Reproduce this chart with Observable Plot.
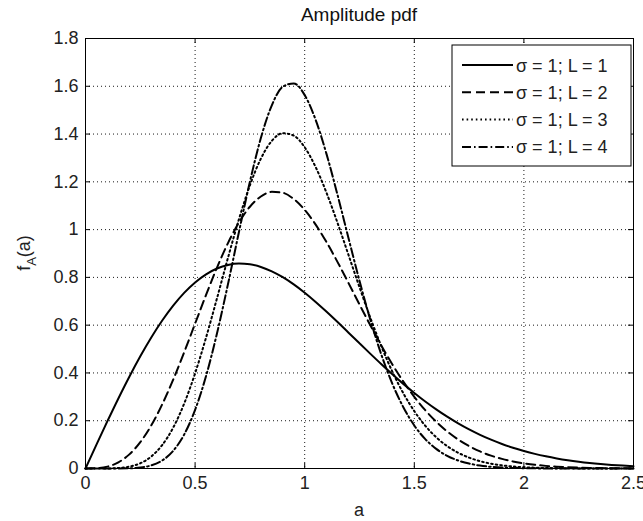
<!DOCTYPE html>
<html><head><meta charset="utf-8">
<script src="https://cdn.jsdelivr.net/npm/d3@7"></script>
<script src="https://cdn.jsdelivr.net/npm/@observablehq/plot@0.6"></script>
<style>
html,body{margin:0;padding:0;background:#fff;}
#chart svg{display:block;}
</style></head><body><div id="chart"></div>
<script>
// ---- data ----
const aValues = [0,0.05,0.1,0.15,0.2,0.25,0.3,0.35,0.4,0.45,0.5,0.55,0.6,0.65,0.7,0.75,0.8,0.85,0.9,0.95,1,1.05,1.1,1.15,1.2,1.25,1.3,1.35,1.4,1.45,1.5,1.55,1.6,1.65,1.7,1.75,1.8,1.85,1.9,1.95,2,2.05,2.1,2.15,2.2,2.25,2.3,2.35,2.4,2.45,2.5];
const pdfL1 = [0,0.0998,0.1980,0.2933,0.3843,0.4697,0.5484,0.6193,0.6817,0.7350,0.7788,0.8129,0.8372,0.8520,0.8577,0.8547,0.8437,0.8254,0.8007,0.7705,0.7358,0.6973,0.6560,0.6129,0.5686,0.5240,0.4798,0.4364,0.3944,0.3542,0.3162,0.2805,0.2474,0.2168,0.1890,0.1637,0.1410,0.1207,0.1028,0.0870,0.0733,0.0613,0.0511,0.0423,0.0348,0.0285,0.0232,0.0188,0.0151,0.0121,0.0097];
const pdfL2 = [0,0.0010,0.0078,0.0258,0.0591,0.1103,0.1804,0.2685,0.3718,0.4862,0.6065,0.7268,0.8411,0.9437,1.0298,1.0957,1.1388,1.1582,1.1542,1.1281,1.0827,1.0210,0.9468,0.8640,0.7761,0.6866,0.5985,0.5141,0.4355,0.3639,0.3000,0.2440,0.1960,0.1552,0.1214,0.0939,0.0714,0.0537,0.0402,0.0295,0.0214,0.0154,0.0110,0.0077,0.0053,0.0037,0.0025,0.0017,0.0011,0.0007,0.0005];
const pdfL3 = [0,0,0.0003,0.0019,0.0077,0.0219,0.0501,0.0982,0.1711,0.2714,0.3986,0.5483,0.7130,0.8820,1.0434,1.1852,1.2971,1.3714,1.4036,1.3935,1.3443,1.2616,1.1532,1.0275,0.8936,0.7589,0.6296,0.5109,0.4051,0.3150,0.2401,0.1790,0.1308,0.0938,0.0659,0.0454,0.0306,0.0202,0.0132,0.0084,0.0053,0.0033,0.0020,0.0012,0.0007,0.0004,0.0002,0.0001,0.0001,0,0];
const pdfL4 = [0,0,0,0.0001,0.0009,0.0041,0.0130,0.0336,0.0737,0.1419,0.2453,0.3874,0.5660,0.7719,0.9899,1.2005,1.3835,1.5204,1.5983,1.6119,1.5630,1.4595,1.3149,1.1445,0.9638,0.7857,0.6206,0.4756,0.3544,0.2565,0.1799,0.1231,0.0820,0.0531,0.0334,0.0206,0.0122,0.0071,0.0041,0.0023,0.0012,0.0006,0.0003,0.0002,0.0001,0,0,0,0,0,0];
const seriesLabels = ["σ = 1; L = 1","σ = 1; L = 2","σ = 1; L = 3","σ = 1; L = 4"];
const xTicks = [0,0.5,1,1.5,2,2.5];
const yTicks = [0,0.2,0.4,0.6,0.8,1,1.2,1.4,1.6,1.8];
const titleText = "Amplitude pdf";
const xLabelText = "a";
const yLabelMain = "f", yLabelSub = "A", yLabelTail = "(a)";

// ---- styling / layout ----
const W = 643, H = 521;
const mL = 85, mR = 10, mT = 38, mB = 53;
const frameW = W - mL - mR, frameH = H - mT - mB;
const FONT = "'Liberation Sans', Arial, Helvetica, sans-serif";
const dashes = [null, "9,5", "1.6,3", "9,3,1.6,3"];
const tickLen = 5;

const allSeries = [pdfL1, pdfL2, pdfL3, pdfL4];
const table = [];
allSeries.forEach((vals, s) => vals.forEach((v, i) => table.push({a: aValues[i], v, s})));

const lineMarks = allSeries.map((_, s) =>
  Plot.line(table.filter(d => d.s === s), {
    x: "a", y: "v", stroke: "black", strokeWidth: 2,
    strokeDasharray: dashes[s] || undefined, curve: "monotone-x"
  })
);

const plot = Plot.plot({
  width: W, height: H,
  marginLeft: mL, marginRight: mR, marginTop: mT, marginBottom: mB,
  style: {fontFamily: FONT, fontSize: "18px", color: "#222", background: "white"},
  x: {domain: [0, 2.5]},
  y: {domain: [0, 1.8]},
  marks: [
    Plot.gridX(xTicks, {stroke: "black", strokeOpacity: 0.9, strokeDasharray: "1,3"}),
    Plot.gridY(yTicks, {stroke: "black", strokeOpacity: 0.9, strokeDasharray: "1,3"}),
    Plot.ruleX(xTicks, {x: d => d, insetTop: frameH - tickLen, stroke: "black"}),
    Plot.ruleX(xTicks, {x: d => d, insetBottom: frameH - tickLen, stroke: "black"}),
    Plot.ruleY(yTicks, {y: d => d, insetRight: frameW - tickLen, stroke: "black"}),
    Plot.ruleY(yTicks, {y: d => d, insetLeft: frameW - tickLen, stroke: "black"}),
    ...lineMarks,
    Plot.frame({stroke: "black", strokeWidth: 1}),
    Plot.axisX(xTicks, {tickSize: 0, tickPadding: 8, label: null, fontSize: 18, tickFormat: d => String(d)}),
    Plot.axisY(yTicks, {tickSize: 0, tickPadding: 7, label: null, fontSize: 18, tickFormat: d => String(d)})
  ]
});
document.getElementById("chart").appendChild(plot);

const svg = d3.select(plot);
const xs = plot.scale("x"), ys = plot.scale("y");
const cx = (xs.range[0] + xs.range[1]) / 2;
const cy = (ys.range[0] + ys.range[1]) / 2;

// title
svg.append("text").attr("x", cx).attr("y", 21).attr("text-anchor", "middle")
  .attr("font-family", FONT).attr("font-size", 19).attr("fill", "#111").text(titleText);
// x label
svg.append("text").attr("x", cx).attr("y", 516).attr("text-anchor", "middle")
  .attr("font-family", FONT).attr("font-size", 18).attr("fill", "#222").text(xLabelText);
// y label with subscript
const yl = svg.append("text").attr("transform", `translate(30,${cy}) rotate(-90)`)
  .attr("text-anchor", "middle").attr("font-family", FONT).attr("font-size", 18).attr("fill", "#222");
yl.append("tspan").text(yLabelMain);
yl.append("tspan").attr("dy", 6).attr("font-size", 13).text(yLabelSub);
yl.append("tspan").attr("dy", -6).text(yLabelTail);

// legend
const frameRight = xs.range[1], frameTop = ys.range[1];
const lgX = frameRight - 181, lgY = frameTop + 7, lgW = 179, lgH = 121;
const lg = svg.append("g");
lg.append("rect").attr("x", lgX).attr("y", lgY).attr("width", lgW).attr("height", lgH)
  .attr("fill", "white").attr("stroke", "black").attr("stroke-width", 1);
seriesLabels.forEach((lab, s) => {
  const ry = lgY + 20 + s * 27.3;
  lg.append("line").attr("x1", lgX + 10).attr("x2", lgX + 61).attr("y1", ry).attr("y2", ry)
    .attr("stroke", "black").attr("stroke-width", 2)
    .attr("stroke-dasharray", dashes[s] || null);
  lg.append("text").attr("x", lgX + 64).attr("y", ry + 6.5).attr("text-anchor", "start")
    .attr("font-family", FONT).attr("font-size", 18).attr("fill", "#222").text(lab);
});
</script></body></html>
